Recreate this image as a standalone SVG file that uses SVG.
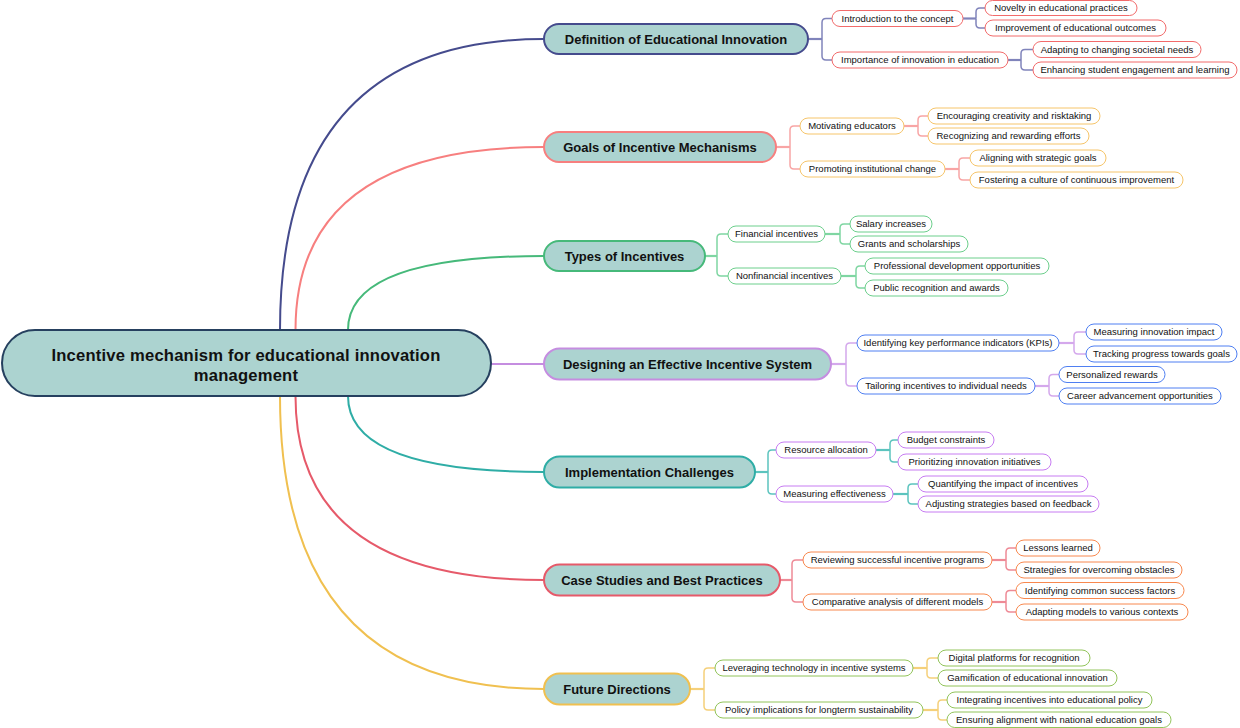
<svg xmlns="http://www.w3.org/2000/svg" width="1240" height="728" viewBox="0 0 1240 728">
<style>
text{font-family:"Liberation Sans",Arial,sans-serif;fill:#111;text-anchor:middle}
.root rect{fill:#acd3d0;stroke:#26405f;stroke-width:2}
.root text{font-size:16.6px;font-weight:bold;letter-spacing:0.2px}
.topic rect{fill:#acd3d0;stroke-width:2}
.topic text{font-size:13px;font-weight:bold}
.leaf rect{fill:#fff;stroke-width:1}
.leaf text{font-size:9.5px}
.main path{fill:none;stroke-width:2}
.sub path{fill:none;stroke-width:1.5}
.sub path.st{stroke-width:2.2}
</style>
<g id="connectors">
<g class="main">
<path d="M280 330 Q280 39 544 39" stroke="#454b8d"/>
<path d="M295.5 330 Q295.5 147 544 147" stroke="#f77f7f"/>
<path d="M348 330 Q348 256 544 256" stroke="#46b97a"/>
<path d="M491 364 H544" stroke="#c58de0"/>
<path d="M348 396 Q348 472 544 472" stroke="#2fada6"/>
<path d="M295.5 396 Q295.5 580 544 580" stroke="#e65a6a"/>
<path d="M280 396 Q280 689 544 689" stroke="#f0c050"/>
</g>
<g class="sub" stroke="#8084bb">
<path class="st" d="M808 39 H822"/>
<path d="M822 39 V22.5 Q822 18.5 826 18.5 H832"/>
<path d="M822 39 V56 Q822 60 826 60 H832"/>
<path class="st" d="M963 18.5 H976"/>
<path d="M976 18.5 V12 Q976 8 980 8 H985"/>
<path d="M976 18.5 V24 Q976 28 980 28 H985"/>
<path class="st" d="M1008 60 H1021"/>
<path d="M1021 60 V53.5 Q1021 49.5 1025 49.5 H1033"/>
<path d="M1021 60 V66 Q1021 70 1025 70 H1033"/>
</g>
<g class="sub" stroke="#f8a5a5">
<path class="st" d="M776 147 H790"/>
<path d="M790 147 V130 Q790 126 794 126 H800"/>
<path d="M790 147 V165 Q790 169 794 169 H800"/>
<path class="st" d="M904 126 H918"/>
<path d="M918 126 V120 Q918 116 922 116 H928"/>
<path d="M918 126 V132 Q918 136 922 136 H928"/>
<path class="st" d="M945 169 H959"/>
<path d="M959 169 V162 Q959 158 963 158 H970"/>
<path d="M959 169 V176 Q959 180 963 180 H970"/>
</g>
<g class="sub" stroke="#7fd6a2">
<path class="st" d="M705 256 H717"/>
<path d="M717 256 V238 Q717 234 721 234 H728"/>
<path d="M717 256 V272 Q717 276 721 276 H728"/>
<path class="st" d="M825 234 H840"/>
<path d="M840 234 V228 Q840 224 844 224 H850"/>
<path d="M840 234 V240 Q840 244 844 244 H850"/>
<path class="st" d="M841 276 H856"/>
<path d="M856 276 V270 Q856 266 860 266 H865"/>
<path d="M856 276 V284 Q856 288 860 288 H865"/>
</g>
<g class="sub" stroke="#d4a8ec">
<path class="st" d="M831 364 H846"/>
<path d="M846 364 V347 Q846 343 850 343 H857"/>
<path d="M846 364 V382 Q846 386 850 386 H857"/>
<path class="st" d="M1059 343 H1074"/>
<path d="M1074 343 V336 Q1074 332 1078 332 H1086"/>
<path d="M1074 343 V350 Q1074 354 1078 354 H1086"/>
<path class="st" d="M1035 386 H1049"/>
<path d="M1049 386 V378.5 Q1049 374.5 1053 374.5 H1059"/>
<path d="M1049 386 V392 Q1049 396 1053 396 H1059"/>
</g>
<g class="sub" stroke="#5cc4be">
<path class="st" d="M755 472 H768"/>
<path d="M768 472 V454 Q768 450 772 450 H776"/>
<path d="M768 472 V490 Q768 494 772 494 H776"/>
<path class="st" d="M876 450 H890"/>
<path d="M890 450 V444 Q890 440 894 440 H898"/>
<path d="M890 450 V458 Q890 462 894 462 H898"/>
<path class="st" d="M893 494 H908"/>
<path d="M908 494 V488 Q908 484 912 484 H918"/>
<path d="M908 494 V500 Q908 504 912 504 H918"/>
</g>
<g class="sub" stroke="#ee8a96">
<path class="st" d="M780 580 H792"/>
<path d="M792 580 V564 Q792 560 796 560 H803"/>
<path d="M792 580 V598 Q792 602 796 602 H803"/>
<path class="st" d="M992 560 H1006"/>
<path d="M1006 560 V552 Q1006 548 1010 548 H1016"/>
<path d="M1006 560 V566 Q1006 570 1010 570 H1016"/>
<path class="st" d="M992 602 H1006"/>
<path d="M1006 602 V594.5 Q1006 590.5 1010 590.5 H1016"/>
<path d="M1006 602 V608 Q1006 612 1010 612 H1016"/>
</g>
<g class="sub" stroke="#f5d07a">
<path class="st" d="M690 689 H704"/>
<path d="M704 689 V672 Q704 668 708 668 H715"/>
<path d="M704 689 V706 Q704 710 708 710 H715"/>
<path class="st" d="M913 668 H927"/>
<path d="M927 668 V662 Q927 658 931 658 H938"/>
<path d="M927 668 V674 Q927 678 931 678 H938"/>
<path class="st" d="M923 710 H938"/>
<path d="M938 710 V704 Q938 700 942 700 H947"/>
<path d="M938 710 V716 Q938 720 942 720 H947"/>
</g>
</g>

<g id="root" class="root">
<rect x="2" y="330" width="489" height="66" rx="33"/>
<text x="246" y="361">Incentive mechanism for educational innovation</text>
<text x="246" y="380.5">management</text>
</g>

<g id="t1" class="topic"><rect x="544" y="24" width="264" height="30" rx="15" stroke="#454b8d"/><text x="676" y="43.5">Definition of Educational Innovation</text></g>
<g id="t2" class="topic"><rect x="544" y="132" width="232" height="30" rx="15" stroke="#f77f7f"/><text x="660" y="151.5">Goals of Incentive Mechanisms</text></g>
<g id="t3" class="topic"><rect x="544" y="241" width="161" height="30" rx="15" stroke="#46b97a"/><text x="624.5" y="260.5">Types of Incentives</text></g>
<g id="t4" class="topic"><rect x="544" y="348.5" width="287" height="31" rx="15.5" stroke="#c58de0"/><text x="687.5" y="368.5">Designing an Effective Incentive System</text></g>
<g id="t5" class="topic"><rect x="544" y="456.5" width="211" height="31" rx="15.5" stroke="#2fada6"/><text x="649.5" y="476.5">Implementation Challenges</text></g>
<g id="t6" class="topic"><rect x="544" y="564.5" width="236" height="31" rx="15.5" stroke="#e65a6a"/><text x="662" y="584.5">Case Studies and Best Practices</text></g>
<g id="t7" class="topic"><rect x="544" y="673.5" width="146" height="31" rx="15.5" stroke="#f0c050"/><text x="617" y="693.5">Future Directions</text></g>

<g id="t1-leaves" class="leaf">
<g id="n1a"><rect x="832" y="10.5" width="131" height="16" rx="8" stroke="#f26b6b"/><text x="897.5" y="21.8">Introduction to the concept</text></g>
<g id="n1b"><rect x="832" y="52" width="176" height="16" rx="8" stroke="#f26b6b"/><text x="920" y="63.3">Importance of innovation in education</text></g>
<g id="n1a1"><rect x="985" y="0.5" width="152" height="15" rx="7.5" stroke="#f26b6b"/><text x="1061" y="11.3">Novelty in educational practices</text></g>
<g id="n1a2"><rect x="985" y="20" width="181" height="16" rx="8" stroke="#f26b6b"/><text x="1075.5" y="31.3">Improvement of educational outcomes</text></g>
<g id="n1b1"><rect x="1033" y="41.5" width="168" height="16" rx="8" stroke="#f26b6b"/><text x="1117" y="52.8">Adapting to changing societal needs</text></g>
<g id="n1b2"><rect x="1033" y="62" width="204" height="16" rx="8" stroke="#f26b6b"/><text x="1135" y="73.3">Enhancing student engagement and learning</text></g>
</g>

<g id="t2-leaves" class="leaf">
<g id="n2a"><rect x="800" y="118" width="104" height="16" rx="8" stroke="#f6c56a"/><text x="852" y="129.3">Motivating educators</text></g>
<g id="n2b"><rect x="800" y="161" width="145" height="16" rx="8" stroke="#f6c56a"/><text x="872.5" y="172.3">Promoting institutional change</text></g>
<g id="n2a1"><rect x="928" y="108" width="172" height="16" rx="8" stroke="#f6c56a"/><text x="1014" y="119.3">Encouraging creativity and risktaking</text></g>
<g id="n2a2"><rect x="928" y="128" width="161" height="16" rx="8" stroke="#f6c56a"/><text x="1008.5" y="139.3">Recognizing and rewarding efforts</text></g>
<g id="n2b1"><rect x="970" y="150" width="136" height="16" rx="8" stroke="#f6c56a"/><text x="1038" y="161.3">Aligning with strategic goals</text></g>
<g id="n2b2"><rect x="970" y="172" width="213" height="16" rx="8" stroke="#f6c56a"/><text x="1076.5" y="183.3">Fostering a culture of continuous improvement</text></g>
</g>

<g id="t3-leaves" class="leaf">
<g id="n3a"><rect x="728" y="226" width="97" height="16" rx="8" stroke="#6ccf8c"/><text x="776.5" y="237.3">Financial incentives</text></g>
<g id="n3b"><rect x="728" y="268" width="113" height="16" rx="8" stroke="#6ccf8c"/><text x="784.5" y="279.3">Nonfinancial incentives</text></g>
<g id="n3a1"><rect x="850" y="216" width="82" height="16" rx="8" stroke="#6ccf8c"/><text x="891" y="227.3">Salary increases</text></g>
<g id="n3a2"><rect x="850" y="236" width="118" height="16" rx="8" stroke="#6ccf8c"/><text x="909" y="247.3">Grants and scholarships</text></g>
<g id="n3b1"><rect x="865" y="258" width="184" height="16" rx="8" stroke="#6ccf8c"/><text x="957" y="269.3">Professional development opportunities</text></g>
<g id="n3b2"><rect x="865" y="280" width="143" height="16" rx="8" stroke="#6ccf8c"/><text x="936.5" y="291.3">Public recognition and awards</text></g>
</g>

<g id="t4-leaves" class="leaf">
<g id="n4a"><rect x="857" y="335" width="202" height="16" rx="8" stroke="#4f7ff2"/><text x="958" y="346.3">Identifying key performance indicators (KPIs)</text></g>
<g id="n4b"><rect x="857" y="378" width="178" height="16" rx="8" stroke="#4f7ff2"/><text x="946" y="389.3">Tailoring incentives to individual needs</text></g>
<g id="n4a1"><rect x="1086" y="324" width="136" height="16" rx="8" stroke="#4f7ff2"/><text x="1154" y="335.3">Measuring innovation impact</text></g>
<g id="n4a2"><rect x="1086" y="346" width="151" height="16" rx="8" stroke="#4f7ff2"/><text x="1161.5" y="357.3">Tracking progress towards goals</text></g>
<g id="n4b1"><rect x="1059" y="366.5" width="106" height="16" rx="8" stroke="#4f7ff2"/><text x="1112" y="377.8">Personalized rewards</text></g>
<g id="n4b2"><rect x="1059" y="388" width="162" height="16" rx="8" stroke="#4f7ff2"/><text x="1140" y="399.3">Career advancement opportunities</text></g>
</g>

<g id="t5-leaves" class="leaf">
<g id="n5a"><rect x="776" y="442" width="100" height="16" rx="8" stroke="#c77cf2"/><text x="826" y="453.3">Resource allocation</text></g>
<g id="n5b"><rect x="776" y="486" width="117" height="16" rx="8" stroke="#c77cf2"/><text x="834.5" y="497.3">Measuring effectiveness</text></g>
<g id="n5a1"><rect x="898" y="432" width="96" height="16" rx="8" stroke="#c77cf2"/><text x="946" y="443.3">Budget constraints</text></g>
<g id="n5a2"><rect x="898" y="454" width="153" height="16" rx="8" stroke="#c77cf2"/><text x="974.5" y="465.3">Prioritizing innovation initiatives</text></g>
<g id="n5b1"><rect x="918" y="476" width="170" height="16" rx="8" stroke="#c77cf2"/><text x="1003" y="487.3">Quantifying the impact of incentives</text></g>
<g id="n5b2"><rect x="918" y="496" width="181" height="16" rx="8" stroke="#c77cf2"/><text x="1008.5" y="507.3">Adjusting strategies based on feedback</text></g>
</g>

<g id="t6-leaves" class="leaf">
<g id="n6a"><rect x="803" y="552" width="189" height="16" rx="8" stroke="#f8884e"/><text x="897.5" y="563.3">Reviewing successful incentive programs</text></g>
<g id="n6b"><rect x="803" y="594" width="189" height="16" rx="8" stroke="#f8884e"/><text x="897.5" y="605.3">Comparative analysis of different models</text></g>
<g id="n6a1"><rect x="1016" y="540" width="84" height="16" rx="8" stroke="#f8884e"/><text x="1058" y="551.3">Lessons learned</text></g>
<g id="n6a2"><rect x="1016" y="562" width="166" height="16" rx="8" stroke="#f8884e"/><text x="1099" y="573.3">Strategies for overcoming obstacles</text></g>
<g id="n6b1"><rect x="1016" y="582.5" width="168" height="16" rx="8" stroke="#f8884e"/><text x="1100" y="593.8">Identifying common success factors</text></g>
<g id="n6b2"><rect x="1016" y="604" width="172" height="16" rx="8" stroke="#f8884e"/><text x="1102" y="615.3">Adapting models to various contexts</text></g>
</g>

<g id="t7-leaves" class="leaf">
<g id="n7a"><rect x="715" y="660" width="198" height="16" rx="8" stroke="#92c45a"/><text x="814" y="671.3">Leveraging technology in incentive systems</text></g>
<g id="n7b"><rect x="715" y="702" width="208" height="16" rx="8" stroke="#92c45a"/><text x="819" y="713.3">Policy implications for longterm sustainability</text></g>
<g id="n7a1"><rect x="938" y="650" width="152" height="16" rx="8" stroke="#92c45a"/><text x="1014" y="661.3">Digital platforms for recognition</text></g>
<g id="n7a2"><rect x="938" y="670" width="179" height="16" rx="8" stroke="#92c45a"/><text x="1027.5" y="681.3">Gamification of educational innovation</text></g>
<g id="n7b1"><rect x="947" y="692" width="205" height="16" rx="8" stroke="#92c45a"/><text x="1049.5" y="703.3">Integrating incentives into educational policy</text></g>
<g id="n7b2"><rect x="947" y="712" width="224" height="15.5" rx="7.75" stroke="#92c45a"/><text x="1059" y="723.1">Ensuring alignment with national education goals</text></g>
</g>
</svg>
